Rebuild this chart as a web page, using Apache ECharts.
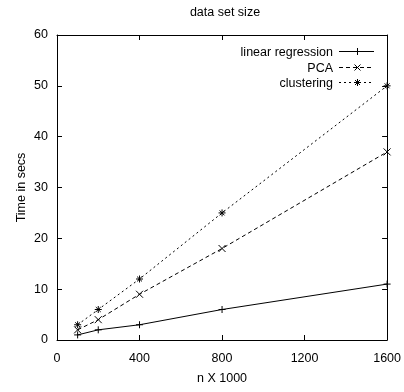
<!DOCTYPE html>
<html><head><meta charset="utf-8">
<script src="https://cdn.jsdelivr.net/npm/echarts@6/dist/echarts.min.js"></script>
<style>html,body{margin:0;padding:0;background:#fff}#c{width:404px;height:392px}</style>
</head><body><div id="c"></div>
<script>
const xValues = [100, 200, 400, 800, 1600];
const linearRegression = [1, 2, 3, 6, 11];
const pca = [2, 4, 9, 18, 37];
const clustering = [3, 6, 12, 25, 50];
const seriesNames = ['linear regression', 'PCA', 'clustering'];

const FONT = "'Liberation Sans Narrow','Liberation Sans',sans-serif";
const FS = 12.5;
const plusSym = 'path://M0,5L10,5M5,0L5,10';
const crossSym = 'path://M0,0L10,10M10,0L0,10';
const starSym = 'path://M0,5L10,5M5,0L5,10M1.5,1.5L8.5,8.5M8.5,1.5L1.5,8.5';
const dashes = ['solid', [4,3], [2,3]];
// legend symbol strokes in a 7x7 box centered on 0,0
const legendSymSegs = [
  [[-3.5,0,3.5,0],[0,-3.5,0,3.5]],
  [[-3,-3,3,3],[3,-3,-3,3]],
  [[-3.5,0,3.5,0],[0,-3.5,0,3.5],[-2.5,-2.5,2.5,2.5],[2.5,-2.5,-2.5,2.5]]
];

function pairs(v){ return xValues.map((x,i)=>[x, v[i]]); }
function mk(name, data, sym, dash){
  return {
    name, type:'line', data: pairs(data), symbol: sym, symbolSize: 7,
    showAllSymbol: true,
    lineStyle:{color:'#000', width:1, type: dash},
    itemStyle:{color:'#000', borderColor:'#000', borderWidth:1},
    emphasis:{disabled:true}, animation:false, clip:false
  };
}
function axisCommon(){
  return {
    axisLine:{show:true, onZero:false, lineStyle:{color:'#000', width:1}},
    axisTick:{show:true, inside:true, length:5, lineStyle:{color:'#000'}},
    splitLine:{show:false}
  };
}
const legendGraphics = [];
const legTextRight = 333, lineX0 = 339, lineX1 = 374, legY0 = 51, legStep = 15.5;
seriesNames.forEach((n, i) => {
  const y = Math.round(legY0 + i * legStep) + 0.5;
  const cx = Math.round((lineX0 + lineX1) / 2) + 0.5;
  legendGraphics.push({
    type:'text', x: legTextRight, y: y + 1.5,
    style:{text:n, font: FS + 'px ' + FONT, fill:'#000', textAlign:'right', textVerticalAlign:'middle'}
  });
  legendGraphics.push({
    type:'line', shape:{x1:lineX0, y1:y, x2:lineX1, y2:y},
    style:{stroke:'#000', lineWidth:1, lineDash: dashes[i] === 'solid' ? null : dashes[i]}
  });
  legendSymSegs[i].forEach(s => {
    legendGraphics.push({
      type:'line', shape:{x1:cx+s[0], y1:y+s[1], x2:cx+s[2], y2:y+s[3]},
      style:{stroke:'#000', lineWidth:1}
    });
  });
});

const chart = echarts.init(document.getElementById('c'));
chart.setOption({
  animation:false,
  textStyle:{fontFamily:FONT},
  title:{text:'data set size', left:220, top:1, textAlign:'center',
    textStyle:{fontFamily:FONT, fontSize:FS, fontWeight:'normal', color:'#000'}},
  grid:{left:57, right:16, top:35, bottom:52},
  graphic: legendGraphics,
  xAxis:[
    Object.assign({type:'value', min:0, max:1600, interval:400, position:'bottom',
      name:'n X 1000', nameLocation:'middle', nameGap:32, nameMoveOverlap:false,
      nameTextStyle:{fontFamily:FONT, fontSize:FS, color:'#000'},
      axisLabel:{fontFamily:FONT, fontSize:FS, color:'#000', margin:12, formatter: v => String(v)}}, axisCommon()),
    Object.assign({type:'value', min:0, max:1600, interval:400, position:'top',
      axisLabel:{show:false}}, axisCommon())
  ],
  yAxis:[
    Object.assign({type:'value', min:0, max:60, interval:10, position:'left',
      name:'Time in secs', nameLocation:'middle', nameGap:29, nameMoveOverlap:false,
      nameTextStyle:{fontFamily:FONT, fontSize:FS, color:'#000'},
      axisLabel:{fontFamily:FONT, fontSize:FS, color:'#000', margin:9}}, axisCommon()),
    Object.assign({type:'value', min:0, max:60, interval:10, position:'right',
      axisLabel:{show:false}}, axisCommon())
  ],
  series:[
    mk(seriesNames[0], linearRegression, plusSym, 'solid'),
    mk(seriesNames[1], pca, crossSym, [4,3]),
    mk(seriesNames[2], clustering, starSym, [2,3])
  ]
});
</script></body></html>
